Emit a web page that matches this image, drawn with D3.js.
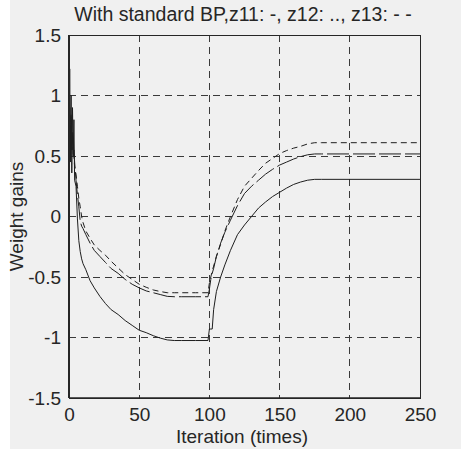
<!DOCTYPE html>
<html>
<head>
<meta charset="utf-8">
<script src="https://cdn.jsdelivr.net/npm/d3@7"></script>
<style>
  html, body { margin: 0; padding: 0; background: #ffffff; }
  svg { display: block; }
  text { font-family: "Liberation Sans", Arial, sans-serif; fill: #262626; }
</style>
</head>
<body>
<svg id="chart" width="461" height="454"></svg>
<script>
// Iteration index shared by the three weight-gain traces
const iterations = [0, 0.5, 1, 1.5, 2, 2.5, 3, 3.5, 4, 5, 6, 7, 8, 9, 10, 12, 15, 18, 22, 26, 30, 35, 40, 45, 50, 55, 60, 65, 70, 75, 80, 90, 99,
  100, 101, 102, 103, 105, 108, 111, 115, 120, 125, 130, 135, 140, 145, 150, 155, 160, 165, 170, 175, 180, 200, 250];

// z11 (solid)
const z11 = [0.35, 1.22, 0.45, 1.0, 0.36, 0.9, 0.5, 0.8, 0.3, 0.25, -0.02, -0.2, -0.29, -0.35, -0.39, -0.44, -0.53, -0.59, -0.66, -0.72, -0.77, -0.81, -0.86, -0.9, -0.94, -0.96, -0.985, -1.005, -1.02, -1.025, -1.025, -1.025, -1.025,
  -0.93, -0.93, -0.93, -0.77, -0.62, -0.5, -0.4, -0.28, -0.15, -0.07, 0.0, 0.07, 0.12, 0.165, 0.2, 0.235, 0.265, 0.285, 0.3, 0.307, 0.307, 0.307, 0.307];

// z12 (dotted)
const z12 = [0.6, 0.9, 0.5, 0.85, 0.55, 0.7, 0.5, 0.55, 0.45, 0.3, 0.18, 0.08, -0.04, -0.08, -0.1, -0.15, -0.22, -0.28, -0.33, -0.38, -0.43, -0.47, -0.52, -0.56, -0.59, -0.615, -0.63, -0.645, -0.66, -0.663, -0.663, -0.663, -0.663,
  -0.6, -0.52, -0.47, -0.43, -0.33, -0.22, -0.13, -0.03, 0.09, 0.19, 0.25, 0.3, 0.35, 0.39, 0.425, 0.45, 0.475, 0.495, 0.51, 0.517, 0.517, 0.517, 0.517];

// z13 (dashed)
const z13 = [0.7, 0.85, 0.6, 0.8, 0.55, 0.65, 0.6, 0.5, 0.41, 0.35, 0.25, 0.15, 0.08, 0.0, -0.05, -0.12, -0.18, -0.235, -0.28, -0.32, -0.37, -0.425, -0.48, -0.52, -0.56, -0.585, -0.607, -0.62, -0.63, -0.63, -0.63, -0.63, -0.63,
  -0.55, -0.5, -0.45, -0.41, -0.33, -0.23, -0.12, 0.0, 0.14, 0.25, 0.315, 0.38, 0.44, 0.48, 0.52, 0.545, 0.565, 0.58, 0.6, 0.61, 0.61, 0.61, 0.61];

const xTicks = [0, 50, 100, 150, 200, 250];
const yTicks = [-1.5, -1, -0.5, 0, 0.5, 1, 1.5];
const yTickLabels = ["-1.5", "-1", "-0.5", "0", "0.5", "1", "1.5"];

const titleText = "With standard BP,z11: -, z12: .., z13: - -";
const xLabel = "Iteration (times)";
const yLabel = "Weight gains";

const svg = d3.select("#chart");
const margin = { left: 69, top: 35, right: 41, bottom: 56 };
const W = 461, H = 454;
const innerW = W - margin.left - margin.right;
const innerH = H - margin.top - margin.bottom;

// figure background
svg.append("rect").attr("x", 10).attr("y", 0).attr("width", W - 10).attr("height", 449).attr("fill", "#f0f0f0");

const x = d3.scaleLinear().domain([0, 250]).range([margin.left, margin.left + innerW]);
const y = d3.scaleLinear().domain([-1.5, 1.5]).range([margin.top + innerH, margin.top]);

const g = svg.append("g");

// grid lines
const gridColor = "#3a3a3a";
g.append("g").selectAll("line").data(xTicks.slice(1, -1)).join("line")
  .attr("x1", d => x(d)).attr("x2", d => x(d))
  .attr("y1", y(1.5)).attr("y2", y(-1.5))
  .attr("stroke", gridColor).attr("stroke-width", 1).attr("stroke-dasharray", "7,5")
  .attr("shape-rendering", "crispEdges");
g.append("g").selectAll("line").data(yTicks.slice(1, -1)).join("line")
  .attr("x1", x(0)).attr("x2", x(250))
  .attr("y1", d => y(d)).attr("y2", d => y(d))
  .attr("stroke", gridColor).attr("stroke-width", 1).attr("stroke-dasharray", "7,5")
  .attr("shape-rendering", "crispEdges");

// data traces
const lineGen = vals => d3.line().x((d, i) => x(iterations[i])).y(d => y(d))(vals);
const series = [
  { vals: z11, dash: null },
  { vals: z12, dash: "22,4" },
  { vals: z13, dash: "6,4" }
];
g.append("g").selectAll("path").data(series).join("path")
  .attr("d", d => lineGen(d.vals))
  .attr("fill", "none")
  .attr("stroke", "#1e1e1e")
  .attr("stroke-width", 1)
  .attr("stroke-dasharray", d => d.dash);

// box
g.append("rect")
  .attr("x", x(0)).attr("y", y(1.5))
  .attr("width", x(250) - x(0)).attr("height", y(-1.5) - y(1.5))
  .attr("fill", "none").attr("stroke", "#262626").attr("stroke-width", 1)
  .attr("shape-rendering", "crispEdges");
g.append("line").attr("x1", x(0)).attr("x2", x(0)).attr("y1", y(1.5)).attr("y2", y(-1.5))
  .attr("stroke", "#262626").attr("stroke-width", 2);
g.append("line").attr("x1", x(0)).attr("x2", x(250)).attr("y1", y(-1.5)).attr("y2", y(-1.5))
  .attr("stroke", "#262626").attr("stroke-width", 1.5);

// axes (labels only)
const xAxis = d3.axisBottom(x).tickValues(xTicks).tickSize(0).tickPadding(10).tickFormat(d3.format("d"));
const yAxis = d3.axisLeft(y).tickValues(yTicks).tickSize(0).tickPadding(8)
  .tickFormat((d, i) => yTickLabels[i]);

const xa = svg.append("g").attr("transform", `translate(0,${y(-1.5)})`).call(xAxis);
const ya = svg.append("g").attr("transform", `translate(${x(0)},0)`).call(yAxis);
[xa, ya].forEach(a => {
  a.select(".domain").remove();
  a.selectAll("text").style("font-size", "19px").style("font-family", "'Liberation Sans', Arial, sans-serif").attr("fill", "#262626");
});

// title and axis labels
svg.append("text").attr("x", 243).attr("y", 20.5).attr("text-anchor", "middle")
  .style("font-size", "19.5px").text(titleText);
svg.append("text").attr("x", 242).attr("y", 443).attr("text-anchor", "middle")
  .style("font-size", "19px").text(xLabel);
svg.append("text").attr("transform", `translate(23,${(y(1.5) + y(-1.5)) / 2}) rotate(-90)`)
  .attr("text-anchor", "middle").style("font-size", "19px").text(yLabel);
</script>
</body>
</html>
